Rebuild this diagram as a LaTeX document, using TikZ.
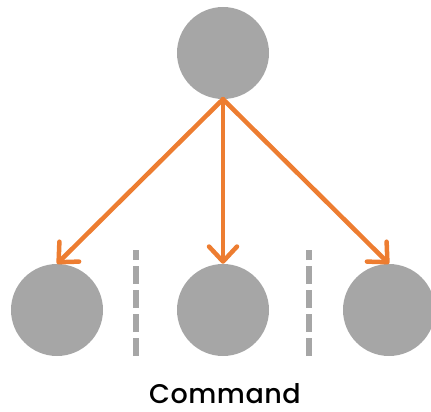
\documentclass[tikz,border=0pt]{standalone}
\usepackage{fontspec}
\setmainfont{Poppins}[UprightFont=* Medium]
\usetikzlibrary{arrows.meta}
\definecolor{cgray}{HTML}{A6A6A6}
\definecolor{corange}{HTML}{ED7D31}
\begin{document}
\begin{tikzpicture}[x=1pt,y=-1pt,
  ball/.style={circle,fill=cgray,minimum size=92pt,inner sep=0pt,draw=none},
  link/.style={draw=corange,line width=4.5pt,line cap=round,
    -{Straight Barb[length=15pt,width=28pt,line width=4.5pt,round]}},
  divider/.style={draw=cgray,line width=6pt,dash pattern=on 18pt off 6pt}]
\useasboundingbox (0,0) rectangle (431,412);
\node[ball] (top) at (223,53) {};
\node[ball] (l) at (57,310) {};
\node[ball] (m) at (223,310) {};
\node[ball] (r) at (389,310) {};
\coordinate (d1b) at (136,356);
\coordinate (d1t) at (136,250);
\coordinate (d2b) at (309,356);
\coordinate (d2t) at (309,250);
\draw[divider] (d1b) -- (d1t);
\draw[divider] (d2b) -- (d2t);
\draw[link] (top.south) -- (l.north);
\draw[link] (top.south) -- (m.north);
\draw[link] (top.south) -- (r.north);
\node[font=\fontsize{27}{29}\selectfont\addfontfeature{LetterSpace=2},anchor=base,inner sep=0pt] (cap) at (225,403) {Command};
\end{tikzpicture}
\end{document}
